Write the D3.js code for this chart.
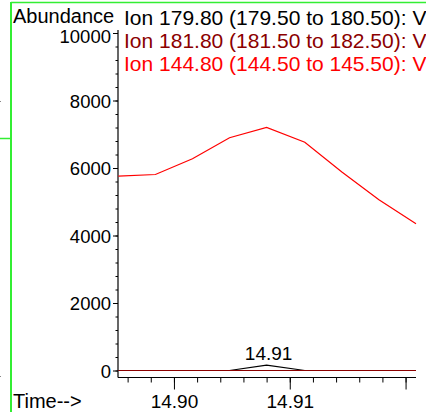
<!DOCTYPE html>
<html>
<head>
<meta charset="utf-8">
<script src="https://cdn.jsdelivr.net/npm/d3@7"></script>
<style>
  html, body { margin: 0; padding: 0; background: #fff; overflow: hidden; }
  svg { display: block; font-family: "Liberation Sans", Arial, sans-serif; }
</style>
</head>
<body>
<svg id="chart" width="426" height="412"></svg>
<script>
// ---- data ----
const times = [14.8952, 14.8984, 14.9016, 14.9048, 14.9080, 14.9113, 14.9145, 14.9177, 14.9209];
const ion179 = [0, 0, 0, 0, 160, 0, 0, 0, 0];
const ion181 = [0, 0, 0, 0, 0, 0, 0, 0, 0];
const ion144 = [5757, 5807, 6273, 6895, 7200, 6764, 5880, 5058, 4347];
const legendLabels = [
  "Ion 179.80 (179.50 to 180.50): V",
  "Ion 181.80 (181.50 to 182.50): V",
  "Ion 144.80 (144.50 to 145.50): V"
];
const seriesColors = ["#000000", "#8b0000", "#ff0000"];
const yMajorTicks = [0, 2000, 4000, 6000, 8000, 10000];
const yMinorTicks = d3.range(0, 10001, 400);
const xMajorTicks = [14.90, 14.91, 14.92];
const xLabelTicks = [14.90, 14.91];
const xMinorTicks = d3.range(14.896, 14.9211, 0.002).map(v => +v.toFixed(3));
const peakLabel = { time: 14.9080, value: 160, text: "14.91" };

// ---- layout ----
const svg = d3.select("#chart");
const plot = { left: 118, right: 416, top: 33, zero: 370.5, axisY: 377.5 };

const x = d3.scaleLinear().domain([14.89517, 14.9209]).range([plot.left, plot.right]);
const y = d3.scaleLinear().domain([0, 10000]).range([plot.zero, plot.top]);

// green frame artifacts
const green = "#33ee33";
svg.append("line").attr("x1", 11).attr("x2", 11).attr("y1", 2).attr("y2", 412)
  .attr("stroke", green).attr("stroke-width", 2);
svg.append("line").attr("x1", 11).attr("x2", 426).attr("y1", 2.5).attr("y2", 2.5)
  .attr("stroke", green).attr("stroke-width", 1.5);
svg.append("line").attr("x1", 0).attr("x2", 11).attr("y1", 138.5).attr("y2", 138.5)
  .attr("stroke", green).attr("stroke-width", 1.5);
svg.append("rect").attr("x", 0).attr("y", 101).attr("width", 1).attr("height", 1).attr("fill", "#888");
svg.append("rect").attr("x", 0).attr("y", 376).attr("width", 1).attr("height", 1).attr("fill", "#888");

// axis titles
svg.append("text").attr("x", 13).attr("y", 22.5).attr("font-size", 20).attr("fill", "#000").text("Abundance");
svg.append("text").attr("x", 13).attr("y", 408).attr("font-size", 20).attr("fill", "#000").text("Time-->");

// legend
legendLabels.forEach((t, i) => {
  svg.append("text").attr("x", 124).attr("y", 25 + i * 23)
    .attr("font-size", 21).attr("fill", seriesColors[i]).text(t);
});

// y axis
const yMinor = d3.axisLeft(y).tickValues(yMinorTicks).tickSize(2.5).tickFormat("");
const yMajor = d3.axisLeft(y).tickValues(yMajorTicks).tickSize(5).tickPadding(2).tickFormat(d3.format("d"));
const gyMin = svg.append("g").attr("transform", `translate(${plot.left},0)`).call(yMinor);
const gyMaj = svg.append("g").attr("transform", `translate(${plot.left},0)`).call(yMajor);
[gyMin, gyMaj].forEach(g => { g.select(".domain").remove(); g.selectAll("line").attr("stroke", "#000"); });
gyMaj.selectAll("text").attr("font-size", 18.5).attr("fill", "#000")
  .attr("font-family", "Liberation Sans, Arial, sans-serif")
  .attr("dy", d => d === 10000 ? "0.5em" : "0.36em");
svg.append("line").attr("x1", plot.left).attr("x2", plot.left).attr("y1", y(10000) - 3).attr("y2", plot.axisY)
  .attr("stroke", "#000").attr("stroke-width", 1.2);

// x axis
const xMinor = d3.axisBottom(x).tickValues(xMinorTicks).tickSize(5).tickFormat("");
const xMajor = d3.axisBottom(x).tickValues(xMajorTicks).tickSize(12).tickPadding(5)
  .tickFormat(d => xLabelTicks.some(v => Math.abs(v - d) < 1e-9) ? d3.format(".2f")(d) : "");
const gxMin = svg.append("g").attr("transform", `translate(0,${plot.axisY})`).call(xMinor);
const gxMaj = svg.append("g").attr("transform", `translate(0,${plot.axisY})`).call(xMajor);
[gxMin, gxMaj].forEach(g => { g.select(".domain").remove(); g.selectAll("line").attr("stroke", "#000"); });
gxMaj.selectAll("text").attr("font-size", 19).attr("fill", "#000").attr("font-family", "Liberation Sans, Arial, sans-serif");
svg.append("line").attr("x1", plot.left).attr("x2", plot.right).attr("y1", plot.axisY).attr("y2", plot.axisY)
  .attr("stroke", "#000").attr("stroke-width", 1.2);

// series
const line = d3.line().x((d, i) => x(times[i])).y(d => y(d));
const order = [[ion144, 2], [ion179, 0], [ion181, 1]];
order.forEach(([vals, ci]) => {
  svg.append("path").datum(vals).attr("d", line)
    .attr("fill", "none").attr("stroke", seriesColors[ci]).attr("stroke-width", 1.2);
});

// peak annotation
svg.append("text").attr("x", x(peakLabel.time) + 2).attr("y", y(peakLabel.value) - 5)
  .attr("text-anchor", "middle").attr("font-size", 19).attr("fill", "#000").text(peakLabel.text);
</script>
</body>
</html>
